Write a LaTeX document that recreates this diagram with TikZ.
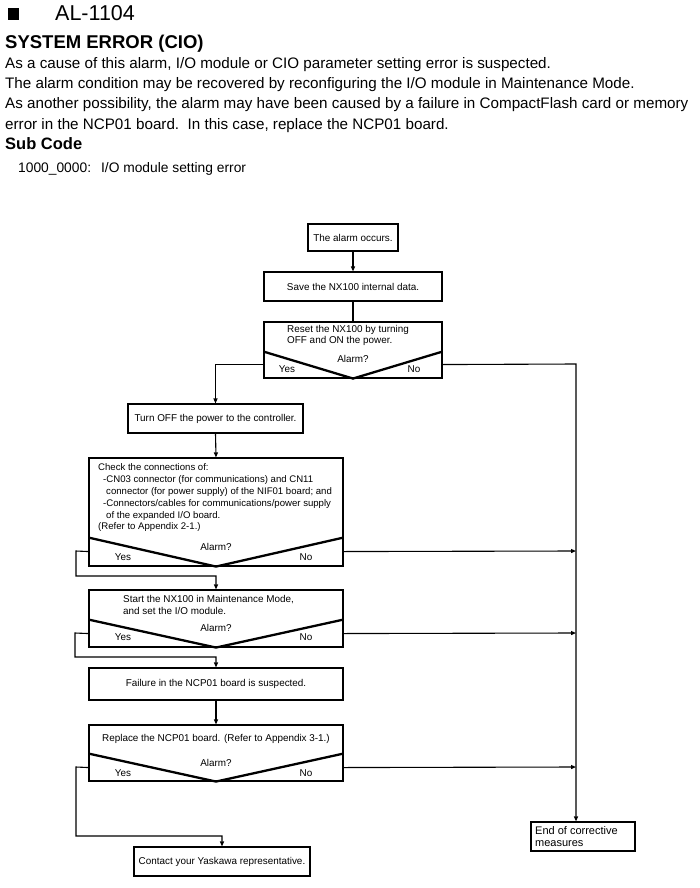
\documentclass[tikz,border=0pt]{standalone}
\usepackage{fontspec}
\setmainfont{Liberation Sans}
\usetikzlibrary{arrows.meta}
\begin{document}
\begin{tikzpicture}[x=1pt,y=-1pt,
  box/.style={draw, line width=1.1pt, inner sep=0pt, rectangle},
  ft/.style={font=\fontsize{9.9}{12}\selectfont, inner sep=0pt},
  ftc/.style={font=\fontsize{9.6}{12}\selectfont, inner sep=0pt, anchor=west},
  para/.style={font=\fontsize{15.2}{20}\selectfont, inner sep=0pt, anchor=base west},
  vee/.style={line width=2.3pt},
  ln/.style={line width=1.1pt},
  arr/.style={line width=1.1pt, -{Triangle[length=5pt,width=4pt]}}
]
\useasboundingbox (0,0) rectangle (700,888);
% header
\fill (8,8) rectangle (19,20);
\node[font=\fontsize{21.5}{24}\selectfont, inner sep=0pt, anchor=base west] (code) at (55,21) {AL-1104};
\node[font=\fontsize{18.5}{20}\selectfont\bfseries, inner sep=0pt, anchor=base west] (title) at (5,49) {SYSTEM ERROR (CIO)};
\node[para] (p1) at (5,69) {As a cause of this alarm, I/O module or CIO parameter setting error is suspected.};
\node[para] (p2) at (5,89) {The alarm condition may be recovered by reconfiguring the I/O module in Maintenance Mode.};
\node[para] (p3) at (5,109) {As another possibility, the alarm may have been caused by a failure in CompactFlash card or memory};
\node[para] (p4) at (5,129.5) {error in the NCP01 board.\ \ In this case, replace the NCP01 board.};
\node[font=\fontsize{16.5}{20}\selectfont\bfseries, inner sep=0pt, anchor=base west] (sub) at (5,149) {Sub Code};
\node[font=\fontsize{13.8}{15}\selectfont, inner sep=0pt, anchor=base west] (sc) at (18,172) {1000\_0000:\hspace{10pt}I/O module setting error};

% boxes
\node[box, ft, minimum width=90pt, minimum height=27pt] (alarm) at (353,237.5) {The alarm occurs.};
\node[box, ft, minimum width=178pt, minimum height=29pt] (save) at (353,286.5) {Save the NX100 internal data.};
\node[box, minimum width=178pt, minimum height=56pt] (reset) at (353,350) {};
\node[box, ft, minimum width=175pt, minimum height=29pt] (turnoff) at (215.5,418.5) {Turn OFF the power to the controller.};
\node[box, minimum width=254pt, minimum height=108pt] (check) at (216,512) {};
\node[box, minimum width=254pt, minimum height=57pt] (start) at (216,618.5) {};
\node[box, ft, minimum width=254pt, minimum height=32pt] (failure) at (216,684) {Failure in the NCP01 board is suspected.};
\node[box, minimum width=254pt, minimum height=56pt] (replace) at (216,753) {};
\node[box, ft, minimum width=176pt, minimum height=29pt] (contact) at (222,861.5) {Contact your Yaskawa representative.};
\node[box, minimum width=104pt, minimum height=29pt] (end) at (583,836.5) {};

% texts inside
\node[ft, anchor=west] (rt1) at (287,330) {Reset the NX100 by turning};
\node[ft, anchor=west] (rt2) at (287,341) {OFF and ON the power.};
\node[ft] (ra) at (353,359) {Alarm?};
\node[ft] (ry) at (287,369) {Yes};
\node[ft] (rn) at (414,369) {No};

\node[ftc] (ct1) at (98,467) {Check the connections of:};
\node[ftc] (ct2) at (103,480) {-CN03 connector (for communications) and CN11};
\node[ftc] (ct3) at (106,492) {connector (for power supply) of the NIF01 board; and};
\node[ftc] (ct4) at (103,504) {-Connectors/cables for communications/power supply};
\node[ftc] (ct5) at (106,516) {of the expanded I/O board.};
\node[ftc] (ct6) at (98,527) {(Refer to Appendix 2-1.)};
\node[ft] (ca) at (216,547) {Alarm?};
\node[ft] (cy) at (123,557) {Yes};
\node[ft] (cn) at (306,557) {No};

\node[ft, anchor=west] (st1) at (123,600) {Start the NX100 in Maintenance Mode,};
\node[ft, anchor=west] (st2) at (123,611) {and set the I/O module.};
\node[ft] (sa) at (216,628) {Alarm?};
\node[ft] (sy) at (123,637) {Yes};
\node[ft] (sn) at (306,637) {No};

\node[ft] (pt1) at (216,739) {Replace the NCP01 board. (Refer to Appendix 3-1.)};
\node[ft] (pa) at (216,763) {Alarm?};
\node[ft] (py) at (123,773) {Yes};
\node[ft] (pn) at (306,773) {No};

\node[ft, anchor=west, align=left, font=\fontsize{11}{11.5}\selectfont] (et) at (535,836.5) {End of corrective\\measures};

% V shapes
\draw[vee] ([yshift=27pt]reset.south west) -- (reset.south) -- ([yshift=27pt]reset.south east);
\draw[vee] ([yshift=29pt]check.south west) -- (check.south) -- ([yshift=29pt]check.south east);
\draw[vee] ([yshift=28pt]start.south west) -- (start.south) -- ([yshift=28pt]start.south east);
\draw[vee] ([yshift=28pt]replace.south west) -- (replace.south) -- ([yshift=28pt]replace.south east);

% bus and bend coordinates
\coordinate (busTop) at (576,364);
\coordinate (bus1) at (576,551);
\coordinate (bus2) at (576,633);
\coordinate (bus3) at (576,767);
\coordinate (cb1) at (76,551);
\coordinate (cb2) at (76,576);
\coordinate (sb1) at (75,633);
\coordinate (sb2) at (75,657);
\coordinate (pb1) at (76,767);
\coordinate (pb2) at (76,836);

% connectors
\draw[arr] (alarm.south) -- (save.north);
\draw[ln] (save.south) -- (reset.north);
\draw[arr] ([yshift=14pt]reset.south west) -| (turnoff.north);
\draw[arr] ([yshift=14pt]reset.south east) -- (busTop) -- (end.north -| busTop);
\draw[arr] (turnoff.south) -- (check.north);
\draw[arr] ([yshift=15pt]check.south west) -- (cb1) -- (cb2) -| (start.north);
\draw[arr] ([yshift=15pt]check.south east) -- (bus1);
\draw[arr] ([yshift=14pt]start.south west) -- (sb1) -- (sb2) -| (failure.north);
\draw[arr] ([yshift=14pt]start.south east) -- (bus2);
\draw[arr] (failure.south) -- (replace.north);
\draw[arr] ([yshift=14pt]replace.south west) -- (pb1) -- (pb2) -| (contact.north);
\draw[arr] ([yshift=14pt]replace.south east) -- (bus3);
\end{tikzpicture}
\end{document}
